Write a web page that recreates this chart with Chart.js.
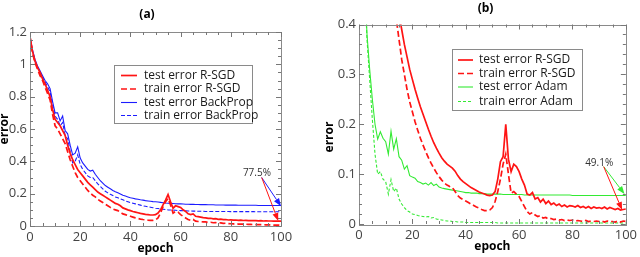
<!DOCTYPE html>
<html><head><meta charset="utf-8">
<script src="https://cdn.jsdelivr.net/npm/chart.js@4.4.0/dist/chart.umd.min.js"></script>
<style>
html,body{margin:0;padding:0;background:#fff;}
#wrap{position:relative;width:640px;height:257px;overflow:hidden;}
.c{position:absolute;top:0;width:320px;height:257px;}
</style></head><body>
<div id="wrap">
<div class="c" style="left:0"><canvas id="ca" width="320" height="257"></canvas></div>
<div class="c" style="left:320px"><canvas id="cb" width="320" height="257"></canvas></div>
</div>
<script>
const epochs = Array.from({length:101}, (_, i) => i);

const aTestRSGD = [1.17,1.08,1.02,0.98,0.95,0.91,0.88,0.84,0.80,0.72,
0.66,0.64,0.62,0.59,0.56,0.50,0.45,0.41,0.38,0.35,
0.33,0.31,0.29,0.27,0.255,0.24,0.225,0.21,0.20,0.19,
0.18,0.17,0.16,0.15,0.14,0.135,0.125,0.112,0.106,0.10,
0.095,0.09,0.086,0.082,0.078,0.075,0.072,0.07,0.068,0.068,
0.07,0.08,0.10,0.13,0.16,0.195,0.15,0.11,0.125,0.12,
0.115,0.10,0.09,0.075,0.07,0.075,0.06,0.058,0.055,0.052,
0.05,0.047,0.048,0.044,0.045,0.041,0.042,0.039,0.04,0.037,
0.038,0.036,0.037,0.035,0.036,0.034,0.035,0.033,0.034,0.033,
0.033,0.032,0.033,0.031,0.032,0.031,0.031,0.030,0.031,0.030,
0.030];
const aTrainRSGD = [1.17,1.07,1.01,0.97,0.93,0.90,0.86,0.82,0.78,0.69,
0.62,0.60,0.57,0.54,0.51,0.46,0.41,0.37,0.33,0.30,
0.28,0.26,0.24,0.22,0.205,0.19,0.18,0.165,0.155,0.145,
0.135,0.125,0.115,0.105,0.10,0.095,0.085,0.075,0.07,0.065,
0.06,0.055,0.05,0.047,0.043,0.04,0.038,0.036,0.035,0.035,
0.038,0.05,0.08,0.12,0.15,0.17,0.13,0.08,0.09,0.085,
0.07,0.06,0.05,0.04,0.035,0.04,0.03,0.028,0.027,0.025,
0.025,0.022,0.023,0.02,0.021,0.018,0.019,0.016,0.017,0.015,
0.014,0.013,0.014,0.012,0.012,0.011,0.011,0.010,0.010,0.009,
0.009,0.008,0.008,0.008,0.007,0.007,0.007,0.006,0.006,0.006,
0.005];
const aTestBP = [1.17,1.09,1.03,0.99,0.96,0.93,0.90,0.88,0.85,0.77,
0.70,0.70,0.65,0.68,0.59,0.57,0.50,0.44,0.45,0.49,
0.42,0.39,0.37,0.35,0.34,0.345,0.32,0.30,0.28,0.265,
0.25,0.24,0.23,0.22,0.212,0.205,0.198,0.19,0.185,0.18,
0.175,0.172,0.168,0.165,0.162,0.16,0.157,0.155,0.153,0.151,
0.15,0.148,0.146,0.144,0.142,0.141,0.14,0.139,0.138,0.137,
0.137,0.136,0.135,0.135,0.134,0.134,0.133,0.133,0.132,0.132,
0.132,0.131,0.131,0.131,0.130,0.130,0.130,0.130,0.129,0.129,
0.129,0.129,0.129,0.128,0.128,0.128,0.128,0.128,0.128,0.128,
0.128,0.127,0.127,0.127,0.127,0.127,0.127,0.127,0.127,0.127,
0.127];
const aTrainBP = [1.17,1.08,1.02,0.98,0.95,0.92,0.89,0.86,0.83,0.75,
0.68,0.66,0.62,0.64,0.56,0.54,0.46,0.39,0.40,0.44,
0.38,0.35,0.33,0.31,0.30,0.30,0.28,0.26,0.245,0.23,
0.215,0.205,0.196,0.188,0.18,0.175,0.168,0.162,0.155,0.15,
0.145,0.141,0.137,0.133,0.129,0.125,0.122,0.119,0.116,0.113,
0.11,0.108,0.106,0.104,0.102,0.10,0.099,0.098,0.097,0.096,
0.095,0.094,0.094,0.093,0.093,0.092,0.092,0.091,0.091,0.091,
0.09,0.09,0.09,0.09,0.09,0.09,0.09,0.09,0.09,0.09,
0.089,0.089,0.089,0.089,0.089,0.089,0.089,0.089,0.089,0.089,
0.088,0.088,0.088,0.088,0.088,0.088,0.088,0.088,0.088,0.088,
0.088];

const bTestRSGD = [1.1,1.02,0.96,0.9,0.85,0.8,0.76,0.72,0.68,0.64,
0.6,0.56,0.52,0.49,0.455,0.42,0.39,0.36,0.335,0.31,
0.29,0.27,0.252,0.235,0.22,0.205,0.19,0.176,0.163,0.152,
0.142,0.133,0.126,0.12,0.116,0.112,0.106,0.097,0.09,0.085,
0.081,0.077,0.073,0.07,0.067,0.064,0.062,0.06,0.058,0.057,
0.058,0.065,0.09,0.125,0.135,0.2,0.13,0.105,0.12,0.115,
0.105,0.09,0.078,0.06,0.058,0.063,0.05,0.053,0.044,0.05,
0.041,0.046,0.039,0.042,0.037,0.04,0.035,0.038,0.034,0.037,
0.036,0.034,0.037,0.033,0.035,0.032,0.035,0.031,0.034,0.032,
0.033,0.031,0.034,0.03,0.033,0.031,0.029,0.031,0.028,0.029,
0.03];
const bTrainRSGD = [1.05,0.97,0.91,0.85,0.8,0.75,0.71,0.67,0.63,0.59,
0.55,0.52,0.48,0.445,0.41,0.37,0.33,0.3,0.27,0.245,
0.225,0.205,0.188,0.172,0.158,0.145,0.133,0.122,0.112,0.103,
0.095,0.088,0.082,0.078,0.075,0.073,0.065,0.057,0.052,0.049,
0.046,0.043,0.04,0.037,0.034,0.032,0.029,0.027,0.027,0.028,
0.033,0.045,0.065,0.09,0.12,0.14,0.1,0.062,0.065,0.06,
0.055,0.045,0.035,0.025,0.02,0.023,0.018,0.015,0.017,0.012,
0.013,0.01,0.011,0.009,0.01,0.008,0.009,0.007,0.008,0.007,
0.008,0.006,0.007,0.006,0.005,0.007,0.005,0.006,0.005,0.006,
0.005,0.006,0.004,0.006,0.005,0.005,0.004,0.006,0.004,0.006,
0.005];
const bTestAdam = [0.95,0.7,0.5,0.38,0.31,0.25,0.2,0.17,0.185,0.172,
0.165,0.14,0.186,0.15,0.171,0.135,0.128,0.11,0.117,0.097,
0.094,0.092,0.085,0.083,0.08,0.082,0.078,0.083,0.077,0.08,
0.074,0.072,0.071,0.07,0.069,0.068,0.067,0.066,0.065,0.064,
0.063,0.063,0.062,0.062,0.062,0.061,0.061,0.061,0.06,0.06,
0.06,0.06,0.06,0.06,0.059,0.059,0.059,0.059,0.059,0.059,
0.059,0.059,0.058,0.058,0.058,0.058,0.058,0.058,0.058,0.058,
0.058,0.058,0.058,0.058,0.058,0.058,0.058,0.058,0.058,0.058,
0.057,0.057,0.057,0.057,0.057,0.057,0.057,0.057,0.057,0.057,
0.057,0.057,0.057,0.057,0.057,0.057,0.057,0.057,0.057,0.057,
0.057];
const bTrainAdam = [0.95,0.7,0.5,0.37,0.29,0.21,0.14,0.1,0.105,0.09,
0.085,0.06,0.089,0.065,0.072,0.05,0.04,0.033,0.027,0.024,
0.02,0.019,0.017,0.016,0.015,0.014,0.015,0.012,0.013,0.01,
0.009,0.008,0.007,0.006,0.006,0.005,0.005,0.004,0.004,0.004,
0.003,0.003,0.003,0.003,0.003,0.003,0.003,0.003,0.003,0.003,
0.003,0.003,0.002,0.002,0.002,0.002,0.002,0.002,0.002,0.002,
0.002,0.002,0.002,0.002,0.002,0.002,0.002,0.002,0.002,0.002,
0.002,0.002,0.002,0.002,0.002,0.002,0.002,0.002,0.002,0.002,
0.002,0.002,0.002,0.002,0.002,0.002,0.002,0.002,0.002,0.002,
0.002,0.002,0.002,0.002,0.002,0.002,0.002,0.002,0.002,0.002,
0.002];

const labelsA = ['test error R-SGD','train error R-SGD','test error BackProp','train error BackProp'];
const labelsB = ['test error R-SGD','train error R-SGD','test error Adam','train error Adam'];
// annotation: text, [x,y] in data units, arrow start, arrow tips
const annA = {text:'77.5%', textAt:[90.4,0.326], from:[92.3,0.30], tips:[[100,0.122],[98.9,0.031]]};
const annB = {text:'49.1%', textAt:[90.0,0.122], from:[91.7,0.115], tips:[[99.5,0.06],[98.6,0.028]]};

const FONT = "'Open Sans', 'DejaVu Sans', sans-serif";
const RED = '#ff1414', BLUE = '#1c1cff', GREEN = '#33ea33';

function arrow(ctx, x0, y0, x1, y1, color) {
  ctx.strokeStyle = color; ctx.fillStyle = color; ctx.lineWidth = 1; ctx.setLineDash([]);
  const ang = Math.atan2(y1 - y0, x1 - x0), L = 8, W = 3;
  const bx = x1 - L * Math.cos(ang), by = y1 - L * Math.sin(ang);
  ctx.beginPath(); ctx.moveTo(x0, y0); ctx.lineTo(bx, by); ctx.stroke();
  ctx.beginPath(); ctx.moveTo(x1, y1);
  ctx.lineTo(bx + W * Math.sin(ang), by - W * Math.cos(ang));
  ctx.lineTo(bx - W * Math.sin(ang), by + W * Math.cos(ang));
  ctx.closePath(); ctx.fill();
}

const decor = {
  id: 'decor',
  afterDraw(chart, args, o) {
    const {ctx, chartArea: a, scales: {x, y}} = chart;
    ctx.save();
    ctx.strokeStyle = '#8a8a8a'; ctx.lineWidth = 1; ctx.setLineDash([]);
    ctx.strokeRect(Math.round(a.left) + 0.5, Math.round(a.top) + 0.5, Math.round(a.right - a.left), Math.round(a.bottom - a.top));
    ctx.strokeStyle = '#777';
    ctx.beginPath();
    for (let k = 0; k * o.xMinor <= x.max + 1e-9; k++) {
      const v = k * o.xMinor, px = Math.round(x.getPixelForValue(v)) + 0.5;
      const L = (k % o.xPer === 0) ? 5 : 3;
      ctx.moveTo(px, a.bottom); ctx.lineTo(px, a.bottom - L);
      ctx.moveTo(px, a.top); ctx.lineTo(px, a.top + L);
    }
    for (let k = 0; k * o.yMinor <= y.max + 1e-9; k++) {
      const v = k * o.yMinor, py = Math.round(y.getPixelForValue(v)) + 0.5;
      const L = (k % o.yPer === 0) ? 5 : 3;
      ctx.moveTo(a.left, py); ctx.lineTo(a.left + L, py);
      ctx.moveTo(a.right, py); ctx.lineTo(a.right - L, py);
    }
    ctx.stroke();
    ctx.fillStyle = '#000'; ctx.font = 'bold 12px ' + FONT;
    ctx.textAlign = 'center'; ctx.textBaseline = 'middle';
    ctx.fillText(o.title, o.titlePos[0], o.titlePos[1]);
    if (o.yTitle) {
      ctx.save(); ctx.translate(o.yTitle.pos[0], o.yTitle.pos[1]); ctx.rotate(-Math.PI / 2);
      ctx.font = 'bold 12px ' + FONT; ctx.fillText(o.yTitle.text, 0, 0); ctx.restore();
    }
    const lg = o.legend;
    ctx.fillStyle = '#fff'; ctx.fillRect(lg.box[0], lg.box[1], lg.box[2], lg.box[3]);
    ctx.strokeStyle = '#8a8a8a'; ctx.strokeRect(lg.box[0] + 0.5, lg.box[1] + 0.5, lg.box[2], lg.box[3]);
    ctx.font = '12px ' + FONT; ctx.textAlign = 'left'; ctx.textBaseline = 'middle';
    chart.data.datasets.forEach((ds, i) => {
      const yy = lg.rows[i];
      ctx.strokeStyle = ds.borderColor; ctx.lineWidth = ds.borderWidth; ctx.setLineDash(ds.borderDash || []);
      ctx.beginPath(); ctx.moveTo(lg.sw[0], yy); ctx.lineTo(lg.sw[1], yy); ctx.stroke();
      ctx.setLineDash([]);
      ctx.fillStyle = '#1a1a1a'; ctx.fillText(ds.label, lg.textX, yy);
    });
    const an = o.ann;
    const sx = x.getPixelForValue(an.from[0]), sy = y.getPixelForValue(an.from[1]);
    an.tips.forEach((t, i) => arrow(ctx, sx, sy, x.getPixelForValue(t[0]), y.getPixelForValue(t[1]), o.annColors[i]));
    ctx.fillStyle = '#333'; ctx.font = '10px ' + FONT; ctx.textAlign = 'center'; ctx.textBaseline = 'middle';
    ctx.fillText(an.text, x.getPixelForValue(an.textAt[0]), y.getPixelForValue(an.textAt[1]));
    ctx.restore();
  }
};

function ds(label, values, color, width, dash) {
  return {label, data: epochs.map((e, i) => ({x: e, y: values[i]})), borderColor: color,
    borderWidth: width, borderDash: dash, pointRadius: 0, tension: 0, fill: false};
}

const fmt = v => String(Math.round(v * 100) / 100);

function make(id, p) {
  return new Chart(document.getElementById(id), {
    type: 'line',
    data: {datasets: p.datasets},
    plugins: [decor],
    options: {
      responsive: false, animation: false, devicePixelRatio: 1,
      layout: {padding: p.padding},
      plugins: {legend: {display: false}, tooltip: {enabled: false}, decor: p.decor},
      scales: {
        x: {type: 'linear', min: 0, max: 100,
          ticks: {stepSize: 20, color: '#444', font: {family: FONT, size: 13}, padding: 3, maxRotation: 0, autoSkip: false, callback: fmt},
          grid: {display: false, drawTicks: false}, border: {display: false},
          title: {display: true, text: 'epoch', color: '#000', font: {family: FONT, size: 12, weight: 'bold'}, padding: {top: 0, bottom: p.xTitlePad}},
          afterFit: s => { s.height = p.xH; }},
        y: {min: 0, max: p.yMax,
          ticks: {stepSize: p.yStep, color: '#444', font: {family: FONT, size: 13}, padding: 3, autoSkip: false, callback: fmt},
          grid: {display: false, drawTicks: false}, border: {display: false},
          title: {display: p.yTitleBuiltin, text: 'error', color: '#000', font: {family: FONT, size: 12, weight: 'bold', lineHeight: 0.7}, padding: {top: 0, bottom: 0}},
          afterFit: s => { s.width = p.yW; }}
      }
    }
  });
}

make('ca', {
  datasets: [
    ds(labelsA[0], aTestRSGD, RED, 1.7, []),
    ds(labelsA[1], aTrainRSGD, RED, 1.7, [6, 3]),
    ds(labelsA[2], aTestBP, BLUE, 1.1, []),
    ds(labelsA[3], aTrainBP, BLUE, 1.1, [4, 2])
  ],
  padding: {left: 0, right: 39, top: 32, bottom: 0},
  xH: 31, yW: 30, yMax: 1.2, yStep: 0.2, xTitlePad: 1.5, yTitleBuiltin: true,
  decor: {xMinor: 5, xPer: 4, yMinor: 0.05, yPer: 4, title: '(a)', titlePos: [147, 15],
    legend: {box: [114, 65, 138, 58], rows: [75.5, 89, 102.5, 115.5], sw: [121, 137], textX: 144},
    ann: annA, annColors: [BLUE, RED]}
});

make('cb', {
  datasets: [
    ds(labelsB[0], bTestRSGD, RED, 1.7, []),
    ds(labelsB[1], bTrainRSGD, RED, 1.7, [6, 3]),
    ds(labelsB[2], bTestAdam, GREEN, 1.1, []),
    ds(labelsB[3], bTrainAdam, GREEN, 1.1, [3, 2])
  ],
  padding: {left: 0, right: 12, top: 24.5, bottom: 0},
  xH: 33, yW: 39, yMax: 0.4, yStep: 0.1, xTitlePad: 3, yTitleBuiltin: false,
  decor: {xMinor: 5, xPer: 4, yMinor: 0.02, yPer: 5, title: '(b)', titlePos: [165.5, 8.5],
    yTitle: {text: 'error', pos: [10, 137]},
    legend: {box: [132, 49, 130, 61], rows: [60, 73.5, 87, 101.5], sw: [138, 153], textX: 159},
    ann: annB, annColors: [GREEN, RED]}
});
</script>
</body></html>
